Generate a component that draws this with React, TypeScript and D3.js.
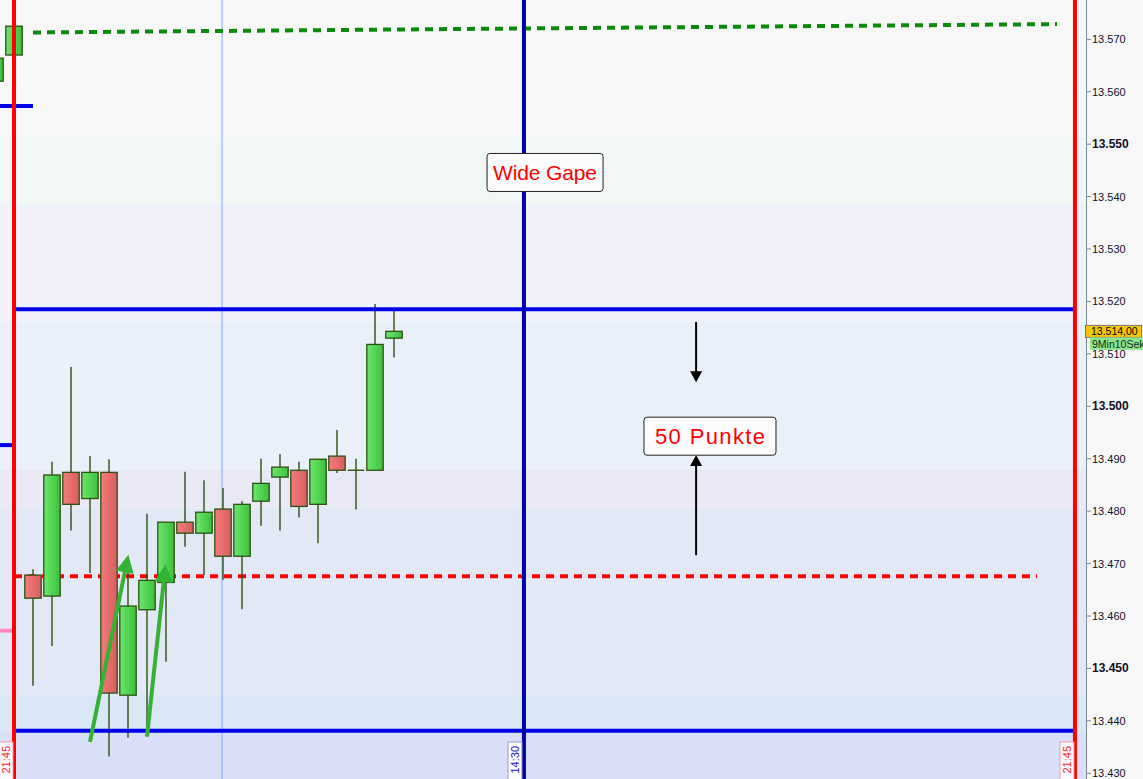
import React from "react";
import * as d3 from "d3";

// ---- data ----
const candleIdx = [-2, -1, 0, 1, 2, 3, 4, 5, 6, 7, 8, 9, 10, 11, 12, 13, 14, 15, 16, 17, 18, 19];
const opens = [13562.0, 13567.0, 13467.8, 13463.8, 13487.4, 13482.4, 13487.4, 13444.9, 13461.2, 13466.4, 13477.9, 13475.8, 13480.4, 13471.4, 13481.9, 13486.5, 13487.8, 13481.3, 13490.5, 13487.8, 13487.8, 13513.0];
const closes = [13566.4, 13572.5, 13463.4, 13486.9, 13481.3, 13487.4, 13445.3, 13461.9, 13466.8, 13477.9, 13475.8, 13479.8, 13471.4, 13481.3, 13485.3, 13488.4, 13480.9, 13489.9, 13487.8, 13487.8, 13511.8, 13514.3];
const highs = [13566.4, 13572.5, 13468.9, 13489.4, 13507.5, 13490.5, 13489.9, 13469.0, 13479.5, 13477.9, 13487.5, 13485.9, 13484.4, 13481.9, 13490.0, 13490.9, 13489.4, 13489.9, 13495.5, 13490.0, 13519.5, 13518.6];
const lows = [13562.0, 13567.0, 13446.7, 13454.3, 13476.3, 13468.2, 13433.2, 13436.8, 13437.0, 13451.3, 13473.2, 13467.8, 13466.9, 13461.3, 13477.2, 13476.3, 13478.8, 13473.9, 13487.3, 13480.3, 13487.8, 13509.3];

const yTicks = [13430, 13440, 13450, 13460, 13470, 13480, 13490, 13500, 13510, 13520, 13530, 13540, 13550, 13560, 13570];
const boldTicks = [13450, 13500, 13550];

const bandEdges = [13590, 13551.4, 13538.4, 13516.1, 13487.9, 13480.7, 13445.0, 13438.1, 13400];
const bandColors = ["#f7f7f7", "#f0f7f6", "#f1f1f9", "#e9f0f9", "#e9e9f6", "#e3e8f6", "#dae7f6", "#d9dff6"];

// session / time lines (index positions)
const sessionLeft = -1;
const sessionRight = 54.84;
const timeLine1430 = 25.84;
const cursorLine = 9.95;
const timeLabels = ["21:45", "14:30", "21:45"];

// horizontal levels
const gapTop = 13518.5;
const gapBottom = 13438.1;
const redDotted = 13467.6;
const greenDotted = [13571.3, 13572.9];
const prevBlue = 13557.3;
const leftBlue = 13492.6;
const leftPink = 13457.2;

const lastPrice = 13514.0;
const timerText = "9Min10Sek";

const annotationTexts = ["Wide Gape", "50 Punkte"];
const annotationIdx = [26.95, 35.63];
const annotationValues = [13544.6, 13494.3];

const blackArrows = [
  { idx: 34.9, from: 13516.1, to: 13504.6 },
  { idx: 34.9, from: 13471.6, to: 13490.7 },
];
const greenArrows = [
  { i0: 3.0, v0: 13436.0, i1: 5.02, v1: 13471.7 },
  { i0: 6.0, v0: 13437.0, i1: 6.98, v1: 13469.9 },
];

const W = 1143;
const H = 779;
const AXIS_X = 1086;
const FONT = "'Liberation Sans', Arial, sans-serif";

const y = d3.scaleLinear().domain([13430, 13570]).range([773.3, 39.3]);
const x = d3.scaleLinear().domain([0, 1]).range([33, 52]);

const fmtTick = (v: number) => d3.format(",")(v).replace(",", ".");
const fmtPrice = (v: number) => d3.format(",.2f")(v).replace(".", "#").replace(",", ".").replace("#", ",");

function arrowHead(x1: number, y1: number, x2: number, y2: number, len: number, half: number) {
  const dx = x2 - x1, dy = y2 - y1;
  const L = Math.hypot(dx, dy);
  const ux = dx / L, uy = dy / L;
  const bx = x2 - ux * len, by = y2 - uy * len;
  const px = -uy, py = ux;
  return `M${x2},${y2}L${bx + px * half},${by + py * half}L${bx - px * half},${by - py * half}Z`;
}

export default function App() {
  const bw = 16.4;
  const candles = candleIdx.map((idx, k) => ({
    idx,
    o: opens[k],
    c: closes[k],
    h: highs[k],
    l: lows[k],
  }));
  const boxW = [116, 132];
  const textW = [104, 110];
  const fontS = [21, 22];

  return (
    <svg
      width={W}
      height={H}
      style={{ position: "fixed", left: 0, top: 0, display: "block", background: "#f7f7f7" }}
      fontFamily={FONT}
    >
      <defs>
        <linearGradient id="gUp" x1="0" x2="1" y1="0" y2="0">
          <stop offset="0" stopColor="#6ce86c" />
          <stop offset="1" stopColor="#3cbf3c" />
        </linearGradient>
        <linearGradient id="gDn" x1="0" x2="1" y1="0" y2="0">
          <stop offset="0" stopColor="#f47c7c" />
          <stop offset="1" stopColor="#d85e5e" />
        </linearGradient>
        <linearGradient id="fadeLine" x1="0" x2="1" y1="0" y2="0">
          <stop offset="0" stopColor="#222" stopOpacity="0.9" />
          <stop offset="1" stopColor="#888" stopOpacity="0" />
        </linearGradient>
        <clipPath id="plot">
          <rect x={0} y={0} width={AXIS_X} height={H} />
        </clipPath>
      </defs>

      {/* background bands */}
      <g clipPath="url(#plot)">
        {bandColors.map((col, k) => (
          <rect
            key={k}
            x={0}
            y={y(bandEdges[k])}
            width={AXIS_X}
            height={y(bandEdges[k + 1]) - y(bandEdges[k])}
            fill={col}
          />
        ))}
      </g>

      <g clipPath="url(#plot)">
        {/* cursor line */}
        <line x1={x(cursorLine)} x2={x(cursorLine)} y1={0} y2={H} stroke="#7ea6ff" strokeWidth={1} />

        {/* faint dark line above top gap line */}
        <line x1={x(sessionLeft)} x2={x(sessionLeft) + 300} y1={y(gapTop) - 3} y2={y(gapTop) - 3} stroke="url(#fadeLine)" strokeWidth={1} />

        {/* red dotted line */}
        <line
          x1={x(sessionLeft)}
          x2={1037}
          y1={y(redDotted)}
          y2={y(redDotted)}
          stroke="#ff0000"
          strokeWidth={4}
          strokeDasharray="8,6"
        />

        {/* candles */}
        {candles.map((d) => {
          const up = d.c >= d.o;
          const top = y(Math.max(d.o, d.c));
          const bot = y(Math.min(d.o, d.c));
          const cx = x(d.idx);
          return (
            <g key={d.idx}>
              <line x1={cx} x2={cx} y1={y(d.h)} y2={y(d.l)} stroke="#2b5212" strokeWidth={1.4} />
              {bot - top < 1 ? (
                <line x1={cx - bw / 2} x2={cx + bw / 2} y1={top} y2={top} stroke="#2b5212" strokeWidth={1.4} />
              ) : (
                <rect
                  x={cx - bw / 2}
                  y={top}
                  width={bw}
                  height={bot - top}
                  fill={up ? "url(#gUp)" : "url(#gDn)"}
                  stroke="#2b5212"
                  strokeWidth={1.3}
                />
              )}
            </g>
          );
        })}

        {/* green dotted line */}
        <line
          x1={x(0)}
          x2={1057}
          y1={y(greenDotted[0])}
          y2={y(greenDotted[1])}
          stroke="#0a8a0a"
          strokeWidth={4}
          strokeDasharray="8,6"
        />

        {/* blue horizontal lines */}
        <line x1={x(sessionLeft)} x2={x(sessionRight)} y1={y(gapTop)} y2={y(gapTop)} stroke="#0000e6" strokeWidth={4} />
        <line x1={x(sessionLeft)} x2={x(sessionRight)} y1={y(gapBottom)} y2={y(gapBottom)} stroke="#0000e6" strokeWidth={4} />
        <line x1={0} x2={x(0)} y1={y(prevBlue)} y2={y(prevBlue)} stroke="#0000e6" strokeWidth={4} />
        <line x1={0} x2={12} y1={y(leftBlue)} y2={y(leftBlue)} stroke="#0000e6" strokeWidth={4} />
        <line x1={0} x2={12} y1={y(leftPink)} y2={y(leftPink)} stroke="#ff88c4" strokeWidth={4} />

        {/* vertical lines */}
        <line x1={x(timeLine1430)} x2={x(timeLine1430)} y1={0} y2={H} stroke="#0000a8" strokeWidth={4} />
        <line x1={x(sessionLeft)} x2={x(sessionLeft)} y1={0} y2={H} stroke="#ff0000" strokeWidth={4} />
        <line x1={x(sessionRight)} x2={x(sessionRight)} y1={0} y2={H} stroke="#ff0000" strokeWidth={4} />

        {/* green arrows */}
        {greenArrows.map((a, k) => {
          const x1 = x(a.i0), y1 = y(a.v0), x2 = x(a.i1), y2 = y(a.v1);
          const L = Math.hypot(x2 - x1, y2 - y1);
          const ex = x2 - ((x2 - x1) / L) * 14, ey = y2 - ((y2 - y1) / L) * 14;
          return (
            <g key={k}>
              <line x1={x1} y1={y1} x2={ex} y2={ey} stroke="#33b233" strokeWidth={4} />
              <path d={arrowHead(x1, y1, x2, y2, 18, 9)} fill="#33b233" />
            </g>
          );
        })}

        {/* black arrows */}
        {blackArrows.map((a, k) => {
          const cx = x(a.idx), y1 = y(a.from), y2 = y(a.to);
          const dir = Math.sign(y2 - y1);
          return (
            <g key={k}>
              <line x1={cx} x2={cx} y1={y1} y2={y2 - dir * 8} stroke="#000" strokeWidth={2} />
              <path d={arrowHead(cx, y1, cx, y2, 11, 6)} fill="#000" />
            </g>
          );
        })}

        {/* annotation boxes */}
        {annotationTexts.map((t, k) => {
          const cx = x(annotationIdx[k]), cy = y(annotationValues[k]);
          return (
            <g key={k}>
              <rect x={cx - boxW[k] / 2} y={cy - 19} width={boxW[k]} height={38} rx={3} fill="#fbfbfb" stroke="#222" strokeWidth={1} />
              <text
                x={cx}
                y={cy + 7.5}
                textAnchor="middle"
                fontSize={fontS[k]}
                fill="#ff0000"
                textLength={textW[k]}
                lengthAdjust="spacing"
              >
                {t}
              </text>
            </g>
          );
        })}

        {/* time labels */}
        {[sessionLeft, timeLine1430, sessionRight].map((idx, k) => {
          const lx = x(idx) - (k === 1 ? 9 : 8);
          const isRed = k !== 1;
          return (
            <g key={k}>
              <rect
                x={lx - 7}
                y={742}
                width={14}
                height={50}
                fill="#fbfbff"
                stroke={isRed ? "#f59a9a" : "#9a9ac8"}
                strokeWidth={1}
              />
              <text
                transform={`translate(${lx + 4},${746}) rotate(-90)`}
                textAnchor="end"
                fontSize={11}
                fill={isRed ? "#ff2020" : "#2020c0"}
              >
                {timeLabels[k]}
              </text>
            </g>
          );
        })}
      </g>

      {/* right axis */}
      <rect x={AXIS_X} y={0} width={W - AXIS_X} height={H} fill="#f7f7f7" />
      <line x1={AXIS_X + 0.5} x2={AXIS_X + 0.5} y1={0} y2={H} stroke="#7a8a98" strokeWidth={1} />
      {yTicks.map((t) => {
        const bold = boldTicks.includes(t);
        return (
          <g key={t}>
            <line x1={AXIS_X} x2={AXIS_X + 5} y1={y(t)} y2={y(t)} stroke="#7a8a98" strokeWidth={1} />
            <text
              x={AXIS_X + 6}
              y={y(t) + 4}
              fontSize={bold ? 12 : 11}
              fontWeight={bold ? "bold" : "normal"}
              fill="#10102a"
            >
              {fmtTick(t)}
            </text>
          </g>
        );
      })}

      {/* last price label */}
      <rect x={1085.5} y={y(lastPrice) - 7.5} width={56} height={12} fill="#f6c600" stroke="#777" strokeWidth={1} />
      <text x={1091} y={y(lastPrice) + 2.5} fontSize={10.5} fill="#000">
        {fmtPrice(lastPrice)}
      </text>
      <rect x={1090} y={y(lastPrice) + 4.5} width={60} height={12.5} fill="#8ee38e" />
      <text x={1092} y={y(lastPrice) + 15} fontSize={10.5} fill="#103010">
        {timerText}
      </text>
    </svg>
  );
}
